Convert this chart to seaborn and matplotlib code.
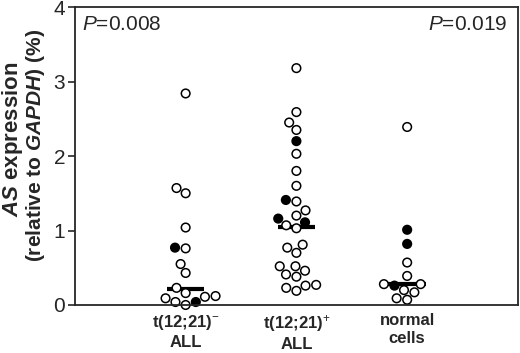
import numpy as np
import pandas as pd
import seaborn as sns
import matplotlib.pyplot as plt

# values (% of GAPDH)
groups = ['t(12;21)$^{-}$\nALL', 't(12;21)$^{+}$\nALL', 'normal\ncells']
neg_open = [2.84, 1.57, 1.50, 1.04, 0.76, 0.55, 0.43, 0.23, 0.16, 0.12, 0.11, 0.09, 0.04, 0.00]
neg_filled = [0.77, 0.04]
pos_open = [3.18, 2.59, 2.45, 2.35, 2.03, 1.80, 1.60, 1.39, 1.27, 1.20, 1.07, 1.03,
            0.81, 0.77, 0.70, 0.52, 0.52, 0.46, 0.41, 0.38, 0.27, 0.26, 0.23, 0.19]
pos_filled = [2.20, 1.41, 1.16, 1.11]
norm_open = [2.39, 0.57, 0.39, 0.28, 0.28, 0.20, 0.17, 0.09, 0.07]
norm_filled = [1.01, 0.82, 0.26]
medians = [0.22, 1.05, 0.28]
p_values = ['0.008', '0.019']

rows = []
for g, op, fi in zip(groups, [neg_open, pos_open, norm_open], [neg_filled, pos_filled, norm_filled]):
    rows += [(g, v, 'open') for v in op]
    rows += [(g, v, 'filled') for v in fi]
df = pd.DataFrame(rows, columns=['group', 'value', 'type'])

sns.set_style('ticks')
plt.rcParams['font.family'] = ['Liberation Sans', 'DejaVu Sans']
plt.rcParams['mathtext.fontset'] = 'custom'
plt.rcParams['mathtext.rm'] = 'Liberation Sans'
plt.rcParams['mathtext.it'] = 'Liberation Sans:italic'
plt.rcParams['mathtext.bf'] = 'Liberation Sans:bold'
plt.rcParams['mathtext.bfit'] = 'Liberation Sans:italic:bold'

fig = plt.figure(figsize=(5.2, 3.53), dpi=100)
ax = fig.add_axes([0.144, 0.136, 0.852, 0.844])

# median bars under the points
ax.hlines(medians, np.arange(3) - 0.17, np.arange(3) + 0.17, color='black', lw=3, zorder=1)

sns.swarmplot(data=df, x='group', y='value', hue='type', order=groups,
              palette={'open': 'white', 'filled': 'black'}, edgecolor='black',
              linewidth=1.1, size=6.2, legend=False, ax=ax, zorder=2)
for c in ax.collections:
    c.set_clip_on(False)

ax.set_xlim(-1, 3)
ax.set_ylim(0, 4)
ax.set_yticks([0, 1, 2, 3, 4])
ax.tick_params(axis='y', labelsize=15, length=5, width=1.2, pad=2)
ax.tick_params(axis='x', length=0, pad=6)
for lab in ax.get_xticklabels():
    lab.set_fontsize(12)
    lab.set_fontweight('bold')
ax.set_xlabel('')
ax.set_ylabel('')
for s in ax.spines.values():
    s.set_linewidth(1.3)
    s.set_visible(True)

fig.text(0.024, 0.606, '$\\mathbfit{AS}$ expression', rotation=90, ha='center', va='center',
         fontsize=16, fontweight='bold')
fig.text(0.069, 0.588, '(relative to $\\mathbfit{GAPDH}$) (%)', rotation=90, ha='center',
         va='center', fontsize=15, fontweight='bold')

ax.text(0.016, 0.943, '$P$=' + p_values[0], transform=ax.transAxes, fontsize=15, va='center', ha='left')
ax.text(0.977, 0.943, '$P$=' + p_values[1], transform=ax.transAxes, fontsize=15, va='center', ha='right')

fig.savefig('out.png', dpi=100)
